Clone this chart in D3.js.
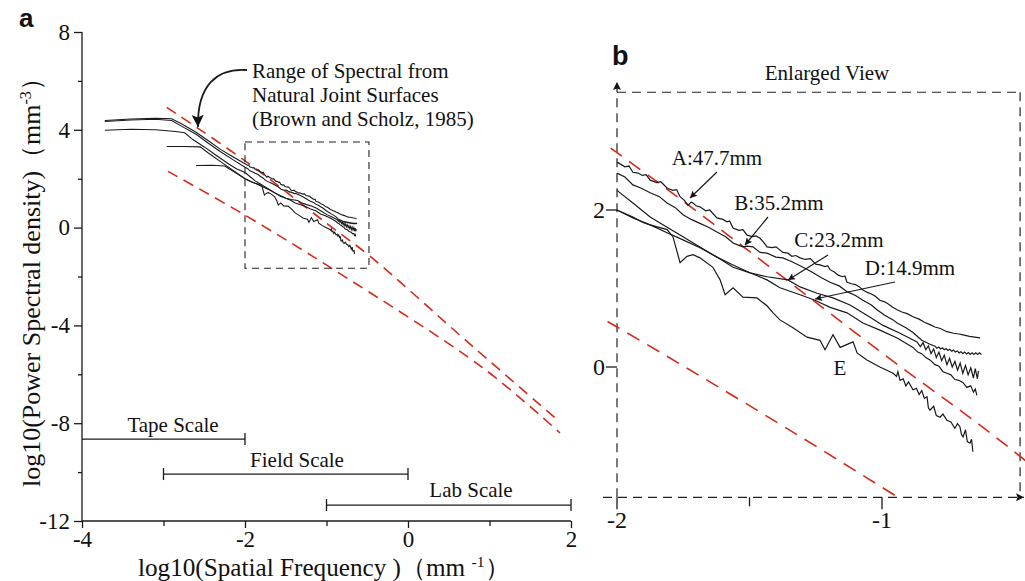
<!DOCTYPE html>
<html><head><meta charset="utf-8">
<script src="https://cdn.jsdelivr.net/npm/d3@7"></script>
<style>
body{margin:0;background:#fff;}
svg{display:block;}
text{font-family:"Liberation Serif","Times New Roman",serif;fill:#111;}
</style></head>
<body>
<svg id="c" width="1025" height="581"></svg>
<script>
// ---------- DATA (log10 spatial frequency, log10 PSD) ----------
const curveA = [[-3.72,4.38],[-3.4,4.44],[-3.1,4.47],[-2.9,4.45],[-2.78,4.25],[-2.6,3.9],[-2.45,3.55],[-2.3,3.2],[-2.15,2.9],
[-2.000,2.61],[-1.970,2.55],[-1.955,2.56],[-1.940,2.48],[-1.920,2.47],[-1.905,2.44],[-1.890,2.45],[-1.875,2.38],[-1.850,2.35],[-1.835,2.36],[-1.811,2.28],[-1.790,2.25],[-1.775,2.26],[-1.762,2.17],[-1.745,2.12],[-1.732,2.06],[-1.720,2.10],[-1.713,2.09],[-1.700,2.05],[-1.687,2.04],[-1.665,1.99],[-1.650,2.00],[-1.623,1.90],[-1.600,1.88],[-1.585,1.85],[-1.575,1.86],[-1.562,1.77],[-1.540,1.74],[-1.525,1.75],[-1.509,1.68],[-1.490,1.66],[-1.475,1.67],[-1.460,1.64],[-1.445,1.58],[-1.434,1.53],[-1.415,1.52],[-1.400,1.53],[-1.374,1.46],[-1.355,1.45],[-1.340,1.41],[-1.325,1.42],[-1.309,1.39],[-1.290,1.37],[-1.270,1.38],[-1.250,1.31],[-1.234,1.30],[-1.215,1.28],[-1.205,1.29],[-1.196,1.24],[-1.180,1.21],[-1.165,1.17],[-1.150,1.15],[-1.140,1.16],[-1.132,1.08],[-1.115,1.06],[-1.100,1.05],[-1.085,1.02],[-1.072,0.98],[-1.055,0.95],[-1.040,0.93],[-1.025,0.90],[-1.008,0.85],[-0.990,0.83],[-0.975,0.80],[-0.960,0.76],[-0.943,0.73],[-0.925,0.70],[-0.905,0.68],[-0.883,0.64],[-0.860,0.61],[-0.840,0.57],[-0.819,0.54],[-0.800,0.51],[-0.780,0.49],[-0.755,0.45],[-0.730,0.43],[-0.710,0.42],[-0.694,0.41],[-0.670,0.39],[-0.650,0.38],[-0.630,0.37]];

const curveB = [[-3.72,4.34],[-3.4,4.40],[-3.1,4.43],[-2.9,4.38],[-2.78,4.15],[-2.6,3.82],[-2.45,3.45],[-2.3,3.1],[-2.15,2.78],
[-2.000,2.47],[-1.970,2.42],[-1.940,2.32],[-1.910,2.28],[-1.875,2.22],[-1.840,2.17],[-1.811,2.09],[-1.780,2.03],[-1.751,1.94],[-1.720,1.88],[-1.687,1.83],[-1.655,1.78],[-1.623,1.72],[-1.590,1.66],[-1.562,1.58],[-1.540,1.55],[-1.525,1.53],[-1.510,1.54],[-1.487,1.53],[-1.460,1.46],[-1.434,1.45],[-1.400,1.40],[-1.374,1.39],[-1.340,1.34],[-1.309,1.29],[-1.280,1.24],[-1.260,1.20],[-1.230,1.14],[-1.196,1.08],[-1.160,1.03],[-1.132,0.96],[-1.100,0.91],[-1.072,0.85],[-1.040,0.79],[-1.019,0.73],[-0.990,0.66],[-0.958,0.60],[-0.943,0.56],[-0.910,0.50],[-0.883,0.44],[-0.850,0.34],[-0.819,0.29],
[-0.800,0.265],[-0.793,0.24],[-0.786,0.255],[-0.779,0.23],[-0.772,0.245],[-0.765,0.22],[-0.758,0.235],[-0.751,0.21],[-0.744,0.225],[-0.737,0.20],[-0.730,0.215],[-0.723,0.19],[-0.716,0.205],[-0.709,0.18],[-0.702,0.195],[-0.695,0.17],[-0.688,0.19],[-0.681,0.165],[-0.674,0.185],[-0.667,0.16],[-0.660,0.18],[-0.653,0.16],[-0.646,0.18],[-0.639,0.16],[-0.632,0.18],[-0.625,0.16]];

const curveC = [[-3.72,3.98],[-3.4,4.02],[-3.1,4.00],[-2.85,3.93],[-2.74,3.88],[-2.64,3.6],[-2.5,3.3],[-2.35,2.95],[-2.2,2.6],[-2.1,2.4],
[-2.000,2.25],[-1.940,2.09],[-1.875,1.91],[-1.811,1.78],[-1.751,1.66],[-1.687,1.53],[-1.623,1.40],[-1.562,1.27],[-1.498,1.20],[-1.434,1.15],[-1.355,1.11],[-1.309,1.02],[-1.245,0.94],[-1.185,0.88],[-1.121,0.79],[-1.057,0.66],[-0.996,0.53],[-0.932,0.43],[-0.868,0.32],
[-0.855,0.26],[-0.845,0.31],[-0.835,0.22],[-0.825,0.27],[-0.815,0.17],[-0.805,0.23],[-0.795,0.12],[-0.785,0.19],[-0.775,0.08],[-0.765,0.15],[-0.755,0.03],[-0.745,0.11],[-0.735,0.00],[-0.725,0.07],[-0.715,-0.04],[-0.705,0.05],[-0.695,-0.08],[-0.685,0.02],[-0.675,-0.10],[-0.665,-0.01],[-0.655,-0.14],[-0.648,-0.02],[-0.640,-0.15],[-0.636,-0.05]];

const curveD = [[-2.96,3.32],[-2.75,3.32],[-2.55,3.30],[-2.45,3.05],[-2.3,2.7],[-2.15,2.35],
[-2.000,2.00],[-1.940,1.90],[-1.875,1.81],[-1.811,1.71],[-1.751,1.62],[-1.687,1.52],[-1.623,1.40],[-1.562,1.30],[-1.498,1.20],[-1.434,1.11],[-1.385,1.01],[-1.309,0.92],[-1.253,0.85],[-1.196,0.76],[-1.132,0.69],[-1.072,0.56],[-1.008,0.47],[-0.943,0.37],[-0.883,0.25],[-0.865,0.19],[-0.850,0.17],[-0.835,0.12],[-0.819,0.09],[-0.800,0.03],[-0.785,0.01],[-0.770,-0.06],[-0.755,-0.08],[-0.740,-0.10],[-0.725,-0.16],[-0.710,-0.17],[-0.694,-0.20],[-0.680,-0.26],[-0.665,-0.24],[-0.655,-0.32],[-0.648,-0.28],[-0.642,-0.36]];

const curveE = [[-2.6,2.54],[-2.4,2.55],[-2.25,2.52],[-2.12,2.25],
[-2.000,2.00],[-1.940,1.91],[-1.902,1.84],[-1.875,1.81],[-1.811,1.75],[-1.789,1.66],[-1.762,1.33],[-1.736,1.41],[-1.713,1.43],[-1.687,1.39],[-1.638,1.27],[-1.611,1.11],[-1.592,0.92],[-1.562,1.01],[-1.525,0.89],[-1.472,0.88],[-1.434,0.78],[-1.411,0.69],[-1.385,0.60],[-1.336,0.50],[-1.283,0.38],[-1.234,0.34],[-1.215,0.22],[-1.185,0.41],[-1.158,0.25],[-1.109,0.32],[-1.094,0.18],[-1.057,0.09],[-1.008,0.00],[-0.958,-0.08],[-0.945,-0.12],[-0.940,-0.06],[-0.932,-0.17],[-0.920,-0.15],[-0.910,-0.24],[-0.900,-0.19],[-0.883,-0.29],[-0.870,-0.27],[-0.860,-0.35],[-0.850,-0.30],[-0.840,-0.40],[-0.830,-0.38],[-0.825,-0.52],[-0.819,-0.55],[-0.805,-0.50],[-0.795,-0.62],[-0.781,-0.64],[-0.770,-0.60],[-0.755,-0.68],[-0.740,-0.70],[-0.725,-0.78],[-0.715,-0.72],[-0.706,-0.76],[-0.700,-0.86],[-0.694,-0.89],[-0.685,-0.80],[-0.678,-0.95],[-0.668,-0.97],[-0.662,-0.92],[-0.657,-1.08]];

const redUpper = [[-2.96,4.92],[-2.0,2.73],[-1.0,0.18],[-0.46,-1.19],[0.8,-4.88],[1.865,-7.95]];
const redLower = [[-2.945,2.30],[-2.0,0.51],[-0.94,-1.66],[0.92,-5.74],[1.865,-8.40]];

const yTicksA = [-12,-8,-4,0,4,8];
const yMinorA = [-10,-6,-2,2,6];
const xTicksA = [-4,-2,0,2];
const xMinorA = [-3,-1,1];
const scaleNames = ["Tape Scale","Field Scale","Lab Scale"];
const scaleFrom = [-4,-3,-1];
const scaleTo = [-2,0,2];
const scaleLevel = [-8.65,-10.08,-11.35];
const zoomBoxX = [-2,-0.479];
const zoomBoxY = [-1.66,3.5];
const yTicksB = [0,2];
const xTicksB = [-2,-1];
const xMinorB = [-1.5];
const curveLabels = ["A:47.7mm","B:35.2mm","C:23.2mm","D:14.9mm","E"];

// ---------- DRAW ----------
const fmt = d => String(d);  // plain hyphen-minus as in the original
const svg = d3.select("#c");
const defs = svg.append("defs");
function marker(id, w, h){
  defs.append("marker").attr("id",id).attr("viewBox","0 0 10 10").attr("refX",10).attr("refY",5)
    .attr("markerUnits","userSpaceOnUse").attr("markerWidth",w).attr("markerHeight",h).attr("orient","auto")
    .append("path").attr("d","M0,0L10,5L0,10L2,5Z").attr("fill","#111");
}
marker("arrBig",16,12); marker("arrSm",9,7); marker("arrAx",10,8);

const INK = "#1a1a1a", RED = "#d42a1a";
function fitText(sel, target){
  const n = sel.node(); const fs = parseFloat(sel.style("font-size"));
  const len = n.getComputedTextLength();
  sel.style("font-size", (fs*target/len)+"px");
}

// Panel a scales
const xa = d3.scaleLinear().domain([-4,2]).range([82,571]);
const ya = d3.scaleLinear().domain([-12,8]).range([521,32]);
const lineA = d3.line().x(d=>xa(d[0])).y(d=>ya(d[1]));
const smoothA = d3.line().x(d=>xa(d[0])).y(d=>ya(d[1])).curve(d3.curveCatmullRom.alpha(0.5));

const ga = svg.append("g");
const yAx = ga.append("g").attr("transform","translate(82,0)")
  .call(d3.axisLeft(ya).tickValues(yTicksA).tickSize(8).tickPadding(4).tickFormat(fmt));
const yMin = ga.append("g").attr("transform","translate(82,0)")
  .call(d3.axisLeft(ya).tickValues(yMinorA).tickSize(4).tickFormat(""));
const xAx = ga.append("g").attr("transform","translate(0,521)")
  .call(d3.axisBottom(xa).tickValues(xTicksA).tickSize(7).tickPadding(3).tickFormat(fmt));
const xMin = ga.append("g").attr("transform","translate(0,521)")
  .call(d3.axisBottom(xa).tickValues(xMinorA).tickSize(5).tickFormat(""));
yMin.select(".domain").remove(); xMin.select(".domain").remove();
yAx.select(".domain").attr("d",`M0,${ya(8)}V${ya(-12)}`);
xAx.select(".domain").attr("d",`M${xa(-4)},0H${xa(2)}`);
ga.selectAll(".domain").attr("stroke",INK).attr("stroke-width",1.3);
ga.selectAll(".tick line").attr("stroke",INK).attr("stroke-width",1.3);
ga.selectAll(".tick text").style("font-family","'Liberation Serif',serif").style("font-size","23px").attr("fill","#111");

// axis titles
const yt = ga.append("text").attr("transform","translate(40,487) rotate(-90)").attr("text-anchor","start")
  .style("font-size","24px");
yt.append("tspan").text("log10(Power Spectral density)（mm");
yt.append("tspan").text("-3").attr("dy",-9).style("font-size","0.62em");
yt.append("tspan").text("）").attr("dy",9);
fitText(yt, 422);
const xt = ga.append("text").attr("x",138).attr("y",576).attr("text-anchor","start").style("font-size","24px");
xt.append("tspan").text("log10(Spatial Frequency )（mm ");
xt.append("tspan").text("-1").attr("dy",-9).style("font-size","0.62em");
xt.append("tspan").text("）").attr("dy",9);
fitText(xt, 372);

// red dashed lines
[redUpper, redLower].forEach(r=>{
  ga.append("path").attr("d",smoothA(r)).attr("fill","none").attr("stroke",RED).attr("stroke-width",1.6).attr("stroke-dasharray","11,7");
});
// curves
[curveA,curveB,curveC,curveD,curveE].forEach(c=>{
  ga.append("path").attr("d",lineA(c)).attr("fill","none").attr("stroke",INK).attr("stroke-width",1.1);
});
// zoom box
ga.append("rect").attr("x",xa(zoomBoxX[0])).attr("y",ya(zoomBoxY[1]))
  .attr("width",xa(zoomBoxX[1])-xa(zoomBoxX[0])).attr("height",ya(zoomBoxY[0])-ya(zoomBoxY[1]))
  .attr("fill","none").attr("stroke","#222").attr("stroke-width",1.1).attr("stroke-dasharray","7,5");
// scale bars
scaleNames.forEach((n,i)=>{
  const y = ya(scaleLevel[i]);
  ga.append("line").attr("x1",xa(scaleFrom[i])).attr("x2",xa(scaleTo[i])).attr("y1",y).attr("y2",y).attr("stroke",INK).attr("stroke-width",1.3);
  [scaleFrom[i],scaleTo[i]].forEach(v=>{ if(v>-4) ga.append("line").attr("x1",xa(v)).attr("x2",xa(v)).attr("y1",y-6).attr("y2",y+6).attr("stroke",INK).attr("stroke-width",1.3);});
});
ga.append("text").attr("x",173).attr("y",432).attr("text-anchor","middle").style("font-size","21px").text(scaleNames[0]);
ga.append("text").attr("x",297).attr("y",467).attr("text-anchor","middle").style("font-size","21px").text(scaleNames[1]);
ga.append("text").attr("x",471).attr("y",497).attr("text-anchor","middle").style("font-size","21px").text(scaleNames[2]);
// annotation
const ann = ga.append("text").attr("x",252).style("font-size","21px");
["Range of Spectral from","Natural Joint Surfaces","(Brown and Scholz, 1985)"].forEach((t,i)=>{
  ann.append("tspan").attr("x",252).attr("y",78+i*24).text(t);
});
ga.append("path").attr("d","M247,70 C218,68 197,84 198,127").attr("fill","none").attr("stroke",INK).attr("stroke-width",1.8).attr("marker-end","url(#arrBig)");
svg.append("text").attr("x",19).attr("y",27).style("font-family","'Liberation Sans',Arial,sans-serif").style("font-weight","bold").style("font-size","26px").text("a");

// Panel b
const xb = d3.scaleLinear().domain([-2,-1]).range([617,882]);
const yb = d3.scaleLinear().domain([0,2]).range([367,210]);
const lineB = d3.line().x(d=>xb(d[0])).y(d=>yb(d[1]));
const smoothB = d3.line().x(d=>xb(d[0])).y(d=>yb(d[1])).curve(d3.curveCatmullRom.alpha(0.5));
const gb = svg.append("g");
defs.append("clipPath").attr("id","clipb").append("rect").attr("x",607).attr("y",86).attr("width",418).attr("height",yb(zoomBoxY[0])-86);

const x0=xb(zoomBoxX[0]), x1=xb(zoomBoxX[1]), yTop=yb(zoomBoxY[1]), yBot=yb(zoomBoxY[0]);
gb.append("line").attr("x1",x0).attr("x2",x1).attr("y1",yTop).attr("y2",yTop).attr("stroke","#222").attr("stroke-width",1.2).attr("stroke-dasharray","9,6");
gb.append("line").attr("x1",x1).attr("x2",x1).attr("y1",yTop).attr("y2",yBot).attr("stroke","#222").attr("stroke-width",1.2).attr("stroke-dasharray","9,6");
gb.append("line").attr("x1",x0).attr("x2",x0).attr("y1",yBot).attr("y2",82).attr("stroke","#222").attr("stroke-width",1.2).attr("stroke-dasharray","9,6").attr("marker-end","url(#arrAx)");
gb.append("line").attr("x1",603).attr("x2",1024).attr("y1",yBot).attr("y2",yBot).attr("stroke","#222").attr("stroke-width",1.2).attr("stroke-dasharray","9,6").attr("marker-end","url(#arrAx)");
yTicksB.forEach(v=>{
  gb.append("line").attr("x1",x0-11).attr("x2",x0).attr("y1",yb(v)).attr("y2",yb(v)).attr("stroke",INK).attr("stroke-width",1.3);
  gb.append("text").attr("x",x0-12).attr("y",yb(v)+8).attr("text-anchor","end").style("font-size","24px").text(fmt(v));
});
xTicksB.forEach(v=>{
  gb.append("line").attr("x1",xb(v)).attr("x2",xb(v)).attr("y1",yBot).attr("y2",yBot+12).attr("stroke",INK).attr("stroke-width",1.3);
  gb.append("text").attr("x",xb(v)).attr("y",yBot+31).attr("text-anchor","middle").style("font-size","24px").text(fmt(v));
});
xMinorB.forEach(v=>{
  gb.append("line").attr("x1",xb(v)).attr("x2",xb(v)).attr("y1",yBot).attr("y2",yBot+9).attr("stroke",INK).attr("stroke-width",1.3);
});
const gbc = gb.append("g").attr("clip-path","url(#clipb)");
[redUpper, redLower].forEach(r=>{
  gbc.append("path").attr("d",smoothB(r)).attr("fill","none").attr("stroke",RED).attr("stroke-width",1.6).attr("stroke-dasharray","14,9");
});
[curveA,curveB,curveC,curveD,curveE].forEach((c,i)=>{
  gbc.append("path").attr("d",lineB(c.filter(d=>d[0]>=-2.0001))).attr("fill","none").attr("stroke",INK).attr("stroke-width",1.2);
});
const labPos = [[717,165],[779,210],[839,247],[910,275],[840,375]];
curveLabels.forEach((t,i)=>{
  gb.append("text").attr("x",labPos[i][0]).attr("y",labPos[i][1]).attr("text-anchor","middle").style("font-size","21px").text(t);
});
const ptr = [[717,172,690,198],[768,217,745,245],[828,255,788,280],[895,282,815,299]];
ptr.forEach(p=>{
  gb.append("line").attr("x1",p[0]).attr("y1",p[1]).attr("x2",p[2]).attr("y2",p[3]).attr("stroke",INK).attr("stroke-width",1.2).attr("marker-end","url(#arrSm)");
});
gb.append("text").attr("x",827).attr("y",80).attr("text-anchor","middle").style("font-size","21px").text("Enlarged View");
svg.append("text").attr("x",612).attr("y",65).style("font-family","'Liberation Sans',Arial,sans-serif").style("font-weight","bold").style("font-size","27px").text("b");
</script>
</body></html>
